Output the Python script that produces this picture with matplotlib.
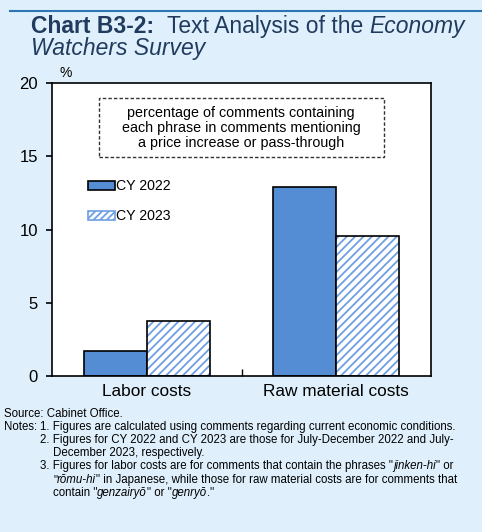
import matplotlib
matplotlib.use("Agg")
import matplotlib.pyplot as plt
from matplotlib.patches import Patch, Rectangle
import numpy as np

categories = ["Labor costs", "Raw material costs"]
series_names = ["CY 2022", "CY 2023"]
cy2022 = [1.7, 12.9]
cy2023 = [3.75, 9.55]
yticks = [0, 5, 10, 15, 20]

BG = "#DFF0FC"
BLUE = "#548DD4"
HATCH = "#6E9FE3"
TITLE = "#213B5E"
W, H = 482, 532

plt.rcParams["font.family"] = ["Liberation Sans", "DejaVu Sans"]
plt.rcParams["hatch.linewidth"] = 1.3

fig = plt.figure(figsize=(W / 100, H / 100), dpi=100, facecolor=BG)
ax = fig.add_axes([52 / W, 1 - 376 / H, 379 / W, 293 / H])
ax.set_facecolor("white")

x = np.arange(len(categories))
w = 0.333
ax.bar(x - w / 2, cy2022, w, color=BLUE, edgecolor="black", linewidth=1.2, zorder=2)
ax.bar(x + w / 2, cy2023, w, color="white", edgecolor=HATCH, hatch="////",
       linewidth=0, zorder=2)
ax.bar(x + w / 2, cy2023, w, color="none", edgecolor="black", linewidth=1.2, zorder=3)

ax.set_xlim(-0.5, 1.5)
ax.set_ylim(0, 20)
ax.set_yticks(yticks)
ax.tick_params(axis="y", direction="out", length=4, width=1.2, labelsize=12, pad=6)
ax.set_xticks(x)
ax.set_xticklabels(categories, fontsize=12.4)
ax.tick_params(axis="x", which="major", length=0, pad=6)
ax.set_xticks([0.5], minor=True)
ax.tick_params(axis="x", which="minor", direction="in", length=5, width=1.0)
for s in ax.spines.values():
    s.set_linewidth(1.2)

handles = [Patch(facecolor=BLUE, edgecolor="black", linewidth=1.2),
           Patch(facecolor="white", edgecolor=HATCH, hatch="/////", linewidth=1.2)]
leg = ax.legend(handles, series_names, loc="upper left", bbox_to_anchor=(0.079, 0.69),
                frameon=False, fontsize=10.2, handlelength=1.9, handleheight=0.55,
                handletextpad=0.1, labelspacing=1.12, borderaxespad=0)
for h in leg.legend_handles[1:]:
    h.set_edgecolor(HATCH)

# dashed note box (figure pixel placement)
ax.add_patch(Rectangle((99 / W, 1 - 157 / H), 285 / W, 59 / H, transform=fig.transFigure,
                       facecolor="white", edgecolor="#333333", linewidth=1.0,
                       linestyle=(0, (2.5, 1.5)), zorder=4, clip_on=False))
fig.text(241 / W, 1 - 128 / H,
         "percentage of comments containing\neach phrase in comments mentioning\na price increase or pass-through",
         ha="center", va="center", fontsize=10.3, linespacing=1.05, zorder=5)

fig.text(60 / W, 1 - 73 / H, "%", fontsize=10, ha="left", va="center")

fig.add_artist(plt.Line2D([10 / W, 1], [1 - 11 / H] * 2, color="#2E75B6", linewidth=1.5))

fig.canvas.draw()
r = fig.canvas.get_renderer()


def runs(x0, y, parts, **kw):
    """Draw consecutive text pieces; parts are (text, style, weight)."""
    xx = x0
    for s, st, wt in parts:
        t = fig.text(xx / W, 1 - y / H, s, style=st, fontweight=wt, ha="left", **kw)
        xx = t.get_window_extent(r).x1
    return xx


TS = 16.5
runs(31, 33, [("Chart B3-2:  ", "normal", "bold"), ("Text Analysis of the ", "normal", "normal"),
              ("Economy", "italic", "normal")], fontsize=TS, color=TITLE, va="baseline")
runs(31, 55, [("Watchers Survey", "italic", "normal")], fontsize=TS, color=TITLE, va="baseline")

fs = 8.3
N, I = "normal", "italic"
fig.text(4 / W, 1 - 414 / H, "Source: Cabinet Office.", fontsize=fs, va="center")
fig.text(4 / W, 1 - 427 / H, "Notes:", fontsize=fs, va="center")
notes = [
    (427, 40, [("1. Figures are calculated using comments regarding current economic conditions.", N)]),
    (440, 40, [("2. Figures for CY 2022 and CY 2023 are those for July-December 2022 and July-", N)]),
    (453, 53, [("December 2023, respectively.", N)]),
    (466, 40, [("3. Figures for labor costs are for comments that contain the phrases \"", N),
               ("jinken-hi", I), ("\" or", N)]),
    (480, 53, [("\"", N), ("rōmu-hi", I),
               ("\" in Japanese, while those for raw material costs are for comments that", N)]),
    (493, 53, [("contain \"", N), ("genzairyō", I), ("\" or \"", N), ("genryō", I), (".\"", N)]),
]
for y, xx, parts in notes:
    runs(xx, y, [(s, st, "normal") for s, st in parts], fontsize=fs, va="center")

fig.savefig("out.png", dpi=100, facecolor=BG)
